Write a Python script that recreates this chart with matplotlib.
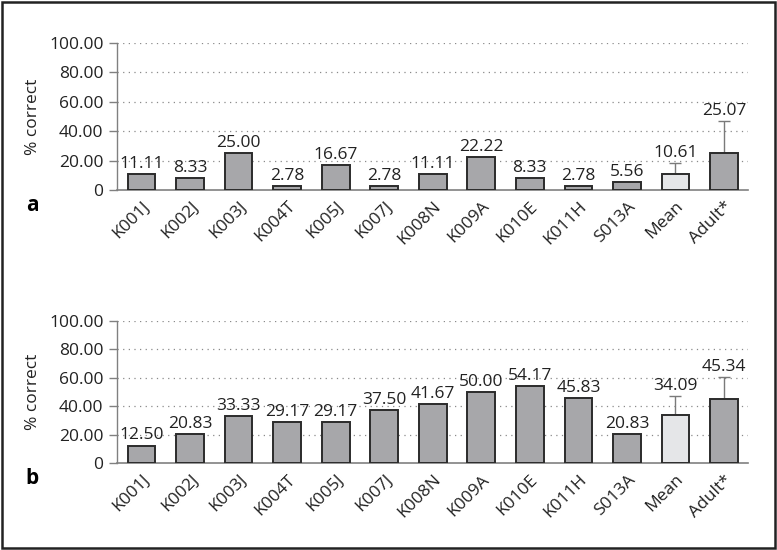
import matplotlib.pyplot as plt
from matplotlib.patches import Rectangle

plt.rcParams['font.family'] = ['Open Sans', 'DejaVu Sans']

labels = ["K001J", "K002J", "K003J", "K004T", "K005J", "K007J", "K008N",
          "K009A", "K010E", "K011H", "S013A", "Mean", "Adult*"]
values_a = [11.11, 8.33, 25.00, 2.78, 16.67, 2.78, 11.11,
            22.22, 8.33, 2.78, 5.56, 10.61, 25.07]
values_b = [12.50, 20.83, 33.33, 29.17, 29.17, 37.50, 41.67,
            50.00, 54.17, 45.83, 20.83, 34.09, 45.34]
# upper error bars (only Mean and Adult*)
err_a = [0] * 11 + [7.6, 22.0]
err_b = [0] * 11 + [13.1, 15.3]
yticks = [0, 20, 40, 60, 80, 100]

DARK = "#a7a7aa"
LIGHT = "#e5e6e8"
GRIDC = "#8a8a8a"
AXC = "#808080"
FS = 12.5

fig = plt.figure(figsize=(7.77, 5.5), dpi=100)

def panel(rect, values, err, letter):
    ax = fig.add_axes(rect)
    x = list(range(len(labels)))
    colors = [DARK] * 11 + [LIGHT, DARK]
    ax.bar(x, values, width=0.57, color=colors, edgecolor="#2b2b2b",
           linewidth=1.4, zorder=3)
    for i, e in enumerate(err):
        if e > 0:
            ax.errorbar(i, values[i], yerr=[[0], [e]], fmt="none",
                        ecolor="#7a7a7a", elinewidth=1.0, capsize=4,
                        capthick=1.0, zorder=2)
    for i, v in enumerate(values):
        top = v + err[i]
        ax.annotate(f"{v:.2f}", (i, top), xytext=(0, 1.5),
                    textcoords="offset points", ha="center", va="bottom",
                    fontsize=FS, color="#222222")
    ax.set_xlim(-0.5, len(labels) - 0.5)
    ax.set_ylim(0, 100)
    ax.set_yticks(yticks)
    ax.set_yticklabels(["0"] + [f"{t:.2f}" for t in yticks[1:]])
    for t in yticks[1:]:
        ax.axhline(t, color=GRIDC, linestyle=(0, (1, 3.5)), linewidth=0.9, zorder=1)
    ax.set_xticks(x)
    ax.set_xticklabels(labels, rotation=45, ha="right", rotation_mode="anchor")
    ax.tick_params(axis="x", length=0, pad=6, labelsize=FS, labelcolor="#222222")
    ax.tick_params(axis="y", length=6, width=1.0, color=AXC, pad=4,
                   labelsize=FS, labelcolor="#222222")
    for s in ["top", "right"]:
        ax.spines[s].set_visible(False)
    ax.spines["left"].set_color(AXC)
    ax.spines["bottom"].set_color(AXC)
    ax.spines["left"].set_linewidth(1.0)
    ax.spines["bottom"].set_linewidth(1.2)
    ax.set_ylabel("% correct", fontsize=FS, color="#222222", labelpad=6)
    ax.text(-0.135, -0.105, letter, transform=ax.transAxes, fontsize=15,
            fontweight="bold", ha="center", va="center")
    return ax

panel([0.151, 0.6545, 0.812, 0.268], values_a, err_a, "a")
panel([0.151, 0.1576, 0.812, 0.2588], values_b, err_b, "b")

fig.patches.append(Rectangle((0.002, 0.003), 0.995, 0.994, transform=fig.transFigure,
                             fill=False, edgecolor="#222222", linewidth=1.8))

fig.savefig("out.png", dpi=100)
